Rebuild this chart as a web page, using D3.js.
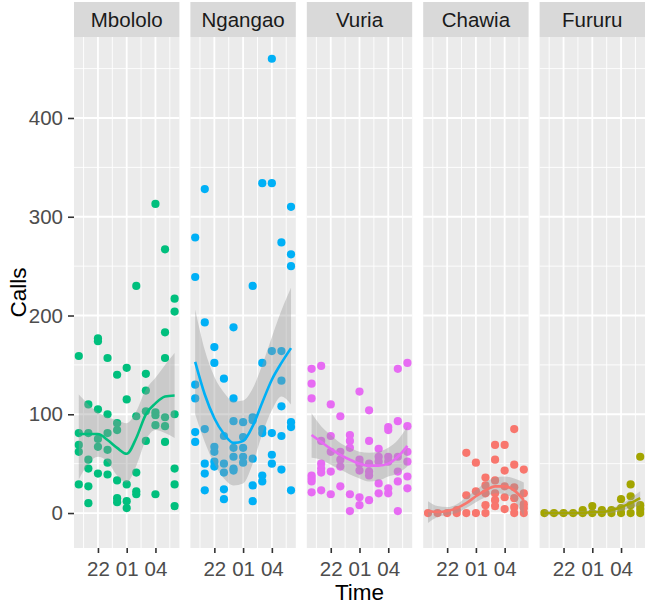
<!DOCTYPE html>
<html><head><meta charset="utf-8">
<script src="https://cdn.jsdelivr.net/npm/d3@7/dist/d3.min.js"></script>
<style>
html,body{margin:0;padding:0;background:#fff;}
svg{display:block;font-family:"Liberation Sans",Arial,sans-serif;}
</style></head>
<body>
<svg id="chart" width="647" height="606"></svg>
<script>
// ---------- data ----------
const sites = ["Mbololo", "Ngangao", "Vuria", "Chawia", "Fururu"];
const siteColors = ["#00BF7D", "#00B0F6", "#E76BF3", "#F8766D", "#A3A500"];
const hours = [0, 1, 2, 3, 4, 5, 6, 7, 8, 9, 10]; // 20:00 ... 06:00
const xTickValues = [2, 5, 8];
const xTickLabels = ["22", "01", "04"];
const yTickValues = [0, 100, 200, 300, 400];

const mbololoCalls = [
  [159, 81, 69, 62, 29],
  [110, 81, 54, 45, 27, 10],
  [177, 174, 105, 75, 67, 40],
  [157, 100, 81, 64, 51, 39],
  [140, 91, 84, 33, 15, 11],
  [147, 115, 29, 12, 5],
  [230, 98, 41, 22, 19],
  [141, 124, 103, 73],
  [313, 102, 99, 89, 19],
  [267, 183, 157, 97, 88, 72],
  [217, 204, 100, 45, 29, 7]
];
const ngangaoCalls = [
  [279, 239, 130, 116, 82, 72],
  [328, 193, 85, 50, 40, 23],
  [168, 152, 67, 62, 52, 47],
  [136, 78, 50, 41, 24, 14],
  [188, 116, 93, 66, 57, 45, 43],
  [92, 77, 66, 57, 51],
  [230, 97, 94, 55, 28, 12],
  [334, 152, 85, 81, 38, 32],
  [460, 334, 164, 81, 59, 50],
  [274, 164, 134, 108, 78, 44],
  [310, 262, 250, 92, 87, 23]
];
const vuriaCalls = [
  [146, 131, 116, 38, 35, 32, 21],
  [149, 73, 50, 45, 41, 23],
  [110, 78, 62, 42, 19],
  [98, 62, 54, 47, 27],
  [79, 73, 66, 19, 2],
  [123, 54, 50, 43, 16, 8],
  [104, 73, 50, 42, 38, 13],
  [65, 57, 52, 30, 20],
  [87, 84, 57, 52, 25, 20],
  [146, 93, 57, 42, 32, 2],
  [152, 88, 62, 52, 37, 25]
];
const chawiaCalls = [
  [0],
  [0],
  [0],
  [3, 0],
  [61, 18, 0],
  [51, 22, 0],
  [36, 28, 20, 8, 0],
  [69, 54, 33, 20, 13, 7],
  [69, 43, 27, 16, 4],
  [85, 49, 26, 15, 6, 0],
  [44, 20, 9, 5, 0]
];
const fururuCalls = [
  [0],
  [0],
  [0],
  [0],
  [3, 0],
  [7, 0],
  [3, 0],
  [3, 0],
  [14, 5, 0],
  [29, 17, 8, 0],
  [57, 8, 4, 0]
];

// loess fit and confidence band, read at each hour
const mbololoFit = [80, 80, 80, 74, 66, 60, 76, 100, 111, 118, 119];
const mbololoLo  = [34, 50, 57, 52, 38, 31, 48, 74, 84, 81, 76];
const mbololoHi  = [120, 110, 102, 97, 94, 91, 103, 125, 137, 150, 162];

const ngangaoFit = [153, 120, 96, 80, 71, 73, 88, 112, 135, 152, 167];
const ngangaoLo  = [100, 72, 50, 35, 28, 30, 50, 80, 104, 118, 110];
const ngangaoHi  = [206, 165, 138, 122, 113, 114, 126, 150, 178, 205, 228];

const vuriaFit = [79, 72, 65, 59, 54, 50, 48, 48, 50, 57, 68];
const vuriaLo  = [56, 54, 49, 44, 39, 35, 32, 33, 37, 40, 47];
const vuriaHi  = [101, 88, 79, 71, 66, 62, 61, 62, 66, 74, 88];

const chawiaFit = [2, 1, 2, 5, 10, 17, 23, 27, 27, 23, 13];
const chawiaLo  = [-10, -4, -2, 0, 5, 11, 16, 20, 19, 13, -4];
const chawiaHi  = [12, 7, 6, 9, 16, 23, 31, 36, 37, 35, 31];

const fururuFit = [0, 0, 0, 0, 0, 1, 1, 3, 6, 10, 15];
const fururuLo  = [-3, -2, -2, -2, -2, -1, -1, 0, 2, 5, 8];
const fururuHi  = [3, 2, 2, 2, 2, 3, 3, 5, 9, 15, 22];

const siteCalls = [mbololoCalls, ngangaoCalls, vuriaCalls, chawiaCalls, fururuCalls];
const siteFit = [mbololoFit, ngangaoFit, vuriaFit, chawiaFit, fururuFit];
const siteLo = [mbololoLo, ngangaoLo, vuriaLo, chawiaLo, fururuLo];
const siteHi = [mbololoHi, ngangaoHi, vuriaHi, chawiaHi, fururuHi];

// ---------- layout ----------
const svg = d3.select("#chart");
const panelLeft = 74, panelW = 105.4, gap = 11;
const panelTop = 37, panelBottom = 548, stripTop = 2;

const y = d3.scaleLinear().domain([-35.4, 482]).range([panelBottom, panelTop]);
const x = d3.scaleLinear().domain([-0.5, 10.5]).range([0, panelW]);

const curve = d3.curveMonotoneX;

sites.forEach((site, i) => {
  const g = svg.append("g").attr("transform", `translate(${panelLeft + i * (panelW + gap)},0)`);
  // background
  g.append("rect").attr("x", 0).attr("y", panelTop).attr("width", panelW)
    .attr("height", panelBottom - panelTop).attr("fill", "#EBEBEB");
  // minor grid
  [50, 150, 250, 350, 450].forEach(v => {
    g.append("line").attr("x1", 0).attr("x2", panelW).attr("y1", y(v)).attr("y2", y(v))
      .attr("stroke", "#fff").attr("stroke-width", 0.9);
  });
  [0.5, 3.5, 6.5, 9.5].forEach(v => {
    g.append("line").attr("y1", panelTop).attr("y2", panelBottom).attr("x1", x(v)).attr("x2", x(v))
      .attr("stroke", "#fff").attr("stroke-width", 0.9);
  });
  // major grid
  yTickValues.forEach(v => {
    g.append("line").attr("x1", 0).attr("x2", panelW).attr("y1", y(v)).attr("y2", y(v))
      .attr("stroke", "#fff").attr("stroke-width", 1.8);
  });
  xTickValues.forEach(v => {
    g.append("line").attr("y1", panelTop).attr("y2", panelBottom).attr("x1", x(v)).attr("x2", x(v))
      .attr("stroke", "#fff").attr("stroke-width", 1.8);
  });
  // strip
  g.append("rect").attr("x", 0).attr("y", stripTop).attr("width", panelW)
    .attr("height", panelTop - stripTop).attr("fill", "#D9D9D9");
  g.append("text").attr("x", panelW / 2).attr("y", (stripTop + panelTop) / 2 + 7.5)
    .attr("text-anchor", "middle").attr("font-size", 20.5).attr("fill", "#1A1A1A").text(site);

  // points
  const pts = [];
  siteCalls[i].forEach((col, h) => col.forEach(v => pts.push({h: hours[h], v})));
  g.append("g").selectAll("circle").data(pts).join("circle")
    .attr("cx", d => x(d.h)).attr("cy", d => y(d.v)).attr("r", 4.1)
    .attr("fill", siteColors[i]);

  // ribbon
  const band = hours.map((h, k) => ({h, lo: siteLo[i][k], hi: siteHi[i][k], fit: siteFit[i][k]}));
  g.append("path").datum(band)
    .attr("d", d3.area().x(d => x(d.h)).y0(d => y(d.lo)).y1(d => y(d.hi)).curve(curve))
    .attr("fill", "#999999").attr("fill-opacity", 0.4);
  g.append("path").datum(band)
    .attr("d", d3.line().x(d => x(d.h)).y(d => y(d.fit)).curve(curve))
    .attr("fill", "none").attr("stroke", siteColors[i]).attr("stroke-width", 2.6);

  // x axis
  const xAxis = d3.axisBottom(x).tickValues(xTickValues)
    .tickFormat((d, k) => xTickLabels[k]).tickSize(5).tickPadding(8);
  const ax = g.append("g").attr("transform", `translate(0,${panelBottom})`).call(xAxis);
  ax.select(".domain").remove();
  ax.selectAll(".tick line").attr("stroke", "#333333").attr("stroke-width", 1.6);
  ax.selectAll(".tick text").attr("font-size", 20.5).attr("fill", "#4D4D4D")
    .attr("font-family", "Liberation Sans, Arial, sans-serif");
});

// y axis
const yAxis = d3.axisLeft(y).tickValues(yTickValues).tickSize(6).tickPadding(5);
const ay = svg.append("g").attr("transform", `translate(${panelLeft},0)`).call(yAxis);
ay.select(".domain").remove();
ay.selectAll(".tick line").attr("stroke", "#333333").attr("stroke-width", 1.6);
ay.selectAll(".tick text").attr("font-size", 20.5).attr("fill", "#4D4D4D")
  .attr("font-family", "Liberation Sans, Arial, sans-serif");

// axis titles
const plotRight = panelLeft + 5 * panelW + 4 * gap;
svg.append("text").attr("x", (panelLeft + plotRight) / 2).attr("y", 600)
  .attr("text-anchor", "middle").attr("font-size", 22.5).attr("fill", "#000").text("Time");
svg.append("text").attr("transform", `translate(26,${(panelTop + panelBottom) / 2}) rotate(-90)`)
  .attr("text-anchor", "middle").attr("font-size", 22.5).attr("fill", "#000").text("Calls");
</script>
</body></html>
